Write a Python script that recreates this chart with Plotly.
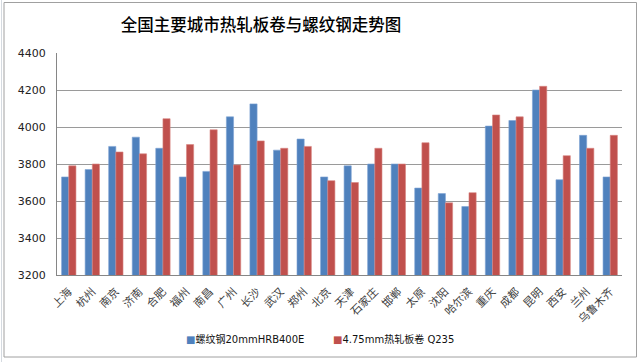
import plotly.graph_objects as go

# ---- data ----
cities = ["上海", "杭州", "南京", "济南", "合肥", "福州", "南昌", "广州", "长沙", "武汉",
          "郑州", "北京", "天津", "石家庄", "邯郸", "太原", "沈阳", "哈尔滨", "重庆", "成都",
          "昆明", "西安", "兰州", "乌鲁木齐"]
rebar = [3730, 3770, 3895, 3945, 3885, 3730, 3760, 4055, 4125, 3875,
         3935, 3730, 3790, 3800, 3800, 3670, 3640, 3570, 4005, 4035,
         4200, 3715, 3955, 3730]
hrc = [3790, 3800, 3865, 3855, 4045, 3905, 3985, 3795, 3925, 3885,
       3895, 3710, 3700, 3885, 3800, 3915, 3590, 3645, 4065, 4055,
       4220, 3845, 3885, 3955]
series_names = ["螺纹钢20mmHRB400E", "4.75mm热轧板卷 Q235"]
series_colors = ["#4F81BD", "#C0504D"]
y_ticks = [3200, 3400, 3600, 3800, 4000, 4200, 4400]
title_text = "全国主要城市热轧板卷与螺纹钢走势图"

W, H = 640, 362
L, R, T, B = 57, 18, 53, 87
pw, ph = W - L - R, H - T - B

def px_x(x):
    return (x - L) / pw

def px_y(y):
    return (H - B - y) / ph

fig = go.Figure()
fig.add_trace(go.Bar(x=cities, y=rebar, name=series_names[0], showlegend=False,
                     marker=dict(color=series_colors[0], line=dict(color="#7EA2D3", width=0.6))))
fig.add_trace(go.Bar(x=cities, y=hrc, name=series_names[1], showlegend=False,
                     marker=dict(color=series_colors[1], line=dict(color="#D98683", width=0.6))))

legend_font = dict(family="DejaVu Sans, Noto Sans CJK SC", size=10, color="#111111")
legend_x = [184, 331]
annotations = []
for name, color, lx in zip(series_names, series_colors, legend_x):
    annotations.append(dict(
        text=f"<span style='color:{color}'>■</span>{name}",
        xref="paper", yref="paper", x=px_x(lx), y=px_y(339),
        xanchor="left", yanchor="middle", showarrow=False, font=legend_font))

fig.update_layout(
    width=W, height=H,
    margin=dict(l=L, r=R, t=T, b=B, autoexpand=False),
    paper_bgcolor="white", plot_bgcolor="white",
    barmode="group", bargap=0.39, bargroupgap=0,
    title=dict(text=title_text, x=261 / W, xref="container", xanchor="center",
               y=1 - 25 / H, yref="container", yanchor="middle", automargin=False,
               font=dict(family="Noto Sans CJK SC", size=16.5, color="#000000", weight=500)),
    font=dict(family="DejaVu Sans, Noto Sans CJK SC", size=11, color="#222222"),
    showlegend=False,
    annotations=annotations,
    xaxis=dict(tickangle=-45, showgrid=False, showline=True, linecolor="#868686", linewidth=1,
               ticks="", automargin=False, ticklabelstandoff=5,
               tickfont=dict(family="Noto Sans CJK SC", size=11, color="#404040"),
               fixedrange=True),
    yaxis=dict(range=[3200, 4400], tickvals=y_ticks, ticktext=[str(v) for v in y_ticks],
               showgrid=True, gridcolor="#9A9A9A", gridwidth=1, automargin=False,
               showline=True, linecolor="#868686", linewidth=1, ticks="",
               ticklabelstandoff=8,
               tickfont=dict(family="DejaVu Sans", size=11, color="#222222"),
               zeroline=False, fixedrange=True),
    shapes=[
        dict(type="rect", xref="paper", yref="paper",
             x0=px_x(4), x1=px_x(636.5), y0=px_y(357), y1=px_y(2.5),
             line=dict(color="#A0A0A0", width=1), fillcolor="rgba(0,0,0,0)", layer="below"),
        dict(type="line", xref="paper", yref="paper",
             x0=px_x(1.5), x1=px_x(1.5), y0=px_y(0), y1=px_y(H),
             line=dict(color="#D5DAE0", width=1)),
    ],
)

fig.write_html("out.html", config={"displayModeBar": False},
               post_script="document.body.style.margin='0';document.body.style.padding='0';")
